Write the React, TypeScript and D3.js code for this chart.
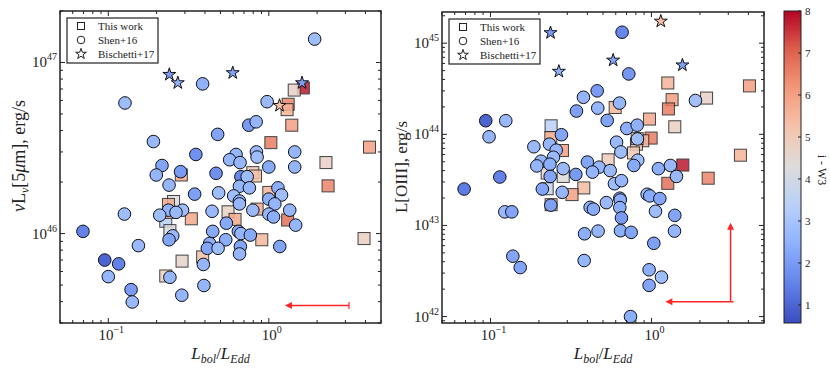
import React, { useEffect, useRef } from 'react';
import * as d3 from 'd3';

const FONT = '"Liberation Serif", "DejaVu Serif", serif';

const X_DOMAIN: [number, number] = [0.05, 5];
const Y5_DOMAIN: [number, number] = [3e45, 2e47];
const YO_DOMAIN: [number, number] = [8.5e41, 2.2e45];
const C_DOMAIN: [number, number] = [0.57, 8];
const C_TICKS = [1, 2, 3, 4, 5, 6, 7, 8];

const LEGEND = ['This work', 'Shen+16', 'Bischetti+17'];

// matplotlib coolwarm, sampled
const COOLWARM = ['#3b4cc0', '#6282ea', '#8db0fe', '#b8d0f9', '#dddcdc', '#f5c4ac', '#f49a7b', '#de604d', '#b40426'];

/* ---- left panel: nuL_nu at 5 micron ---- */
const shen5X = [1.93, 0.387, 0.127, 0.976, 0.75, 0.834, 0.48, 0.191, 0.351, 0.625, 0.57, 0.662, 0.837, 0.845, 1.45, 1.45, 1.0, 0.216, 0.199, 0.282, 0.469, 0.67, 0.733, 0.239, 0.656, 0.757, 0.345, 0.487, 0.604, 0.656, 0.656, 1.0, 1.14, 1.2, 1.09, 0.795, 1.0, 1.07, 1.35, 1.47, 0.443, 0.29, 0.237, 0.264, 0.209, 0.126, 0.544, 0.447, 0.646, 0.67, 0.767, 0.539, 0.252, 0.239, 0.0695, 0.154, 0.428, 0.414, 0.483, 0.665, 0.657, 1.17, 0.095, 0.116, 0.1, 0.391, 0.242, 0.1386, 0.394, 0.287, 0.141];
const shen5L = [1.37e47, 7.5e46, 5.8e46, 5.9e46, 4.3e46, 4.5e46, 3.8e46, 3.45e46, 2.9e46, 2.9e46, 2.7e46, 2.6e46, 3.0e46, 2.8e46, 3.0e46, 2.45e46, 2.45e46, 2.5e46, 2.2e46, 2.3e46, 2.25e46, 2.15e46, 2.15e46, 1.92e46, 1.89e46, 1.85e46, 1.7e46, 1.73e46, 1.66e46, 1.55e46, 1.49e46, 1.59e46, 1.85e46, 1.68e46, 1.49e46, 1.37e46, 1.3e46, 1.25e46, 1.37e46, 1.12e46, 1.35e46, 1.37e46, 1.37e46, 1.33e46, 1.28e46, 1.3e46, 1.15e46, 1.03e46, 1.03e46, 1.0e46, 9.8e45, 9.2e45, 9.7e45, 9.2e45, 1.03e46, 8.5e45, 8.75e45, 8.2e45, 8.2e45, 8.4e45, 7.6e45, 8.4e45, 7.0e45, 6.65e45, 5.6e45, 6.6e45, 5.55e45, 4.7e45, 4.97e45, 4.36e45, 3.98e45];
const shen5C = [2.8, 2.5, 2.8, 2.7, 2.0, 2.6, 2.2, 2.7, 1.8, 2.6, 2.6, 2.6, 2.7, 2.8, 2.6, 2.6, 2.3, 2.2, 2.6, 2.0, 1.8, 1.6, 2.8, 2.6, 2.6, 2.6, 2.1, 2.8, 2.8, 2.6, 2.6, 2.4, 2.4, 2.8, 2.6, 2.7, 2.6, 2.4, 2.6, 2.6, 2.7, 2.8, 2.5, 2.7, 2.8, 2.8, 2.3, 2.3, 2.3, 2.6, 2.3, 2.4, 2.7, 2.2, 1.5, 2.7, 2.4, 2.2, 2.8, 2.2, 2.6, 2.2, 1.0, 1.5, 2.6, 2.6, 2.6, 2.0, 2.6, 2.6, 2.7];

const this5X = [1.64, 1.44, 1.32, 1.3, 1.39, 1.03, 4.24, 2.27, 2.34, 0.795, 0.826, 0.285, 1.0, 0.846, 0.557, 0.616, 0.329, 1.31, 0.255, 0.237, 0.228, 0.242, 0.239, 0.904, 3.92, 0.288, 0.387, 0.228];
const this5L = [7.1e46, 6.9e46, 5.7e46, 5.3e46, 4.3e46, 3.4e46, 3.2e46, 2.6e46, 1.9e46, 2.27e46, 2.17e46, 2.2e46, 1.74e46, 1.39e46, 1.34e46, 1.21e46, 1.22e46, 1.2e46, 1.54e46, 1.48e46, 1.18e46, 1.04e46, 1.33e46, 9.2e45, 9.35e45, 6.9e45, 7.3e45, 5.65e45];
const this5C = [7.8, 4.7, 6.5, 5.6, 6.0, 6.6, 6.0, 4.7, 6.5, 5.0, 5.3, 5.8, 5.6, 5.8, 4.8, 5.8, 5.8, 6.8, 4.2, 5.8, 3.4, 4.2, 5.8, 5.5, 4.8, 4.6, 5.3, 4.8];

const bis5X = [0.24, 0.271, 0.596, 1.61, 1.166];
const bis5L = [8.5e46, 7.6e46, 8.7e46, 7.6e46, 5.6e46];
const bis5C = [2.0, 2.5, 2.2, 2.1, 5.3];

/* ---- right panel: L[OIII] ---- */
const shenOX = [0.657, 0.723, 0.46, 0.378, 0.633, 0.464, 0.342, 1.876, 0.0935, 0.1245, 0.098, 0.531, 0.703, 0.815, 0.818, 0.276, 0.186, 0.2325, 0.256, 0.246, 0.607, 0.646, 0.206, 0.194, 0.234, 0.235, 0.283, 0.4, 0.473, 0.43, 0.339, 0.554, 0.822, 0.777, 1.105, 1.312, 1.43, 0.0686, 0.1143, 0.21, 0.279, 0.589, 0.651, 0.1228, 0.1357, 0.237, 0.416, 0.436, 0.525, 0.636, 0.64, 0.636, 0.651, 0.94, 0.976, 1.127, 1.059, 1.396, 1.39, 0.384, 0.466, 0.642, 0.748, 1.034, 0.1377, 0.153, 0.382, 0.967, 1.154, 0.967, 0.741];
const shenOL = [1.32e45, 4.6e44, 3.0e44, 2.55e44, 2.2e44, 1.94e44, 1.8e44, 2.35e44, 1.41e44, 1.41e44, 9.4e43, 1.42e44, 1.16e44, 1.26e44, 8.9e43, 9.9e43, 7.3e43, 7.8e43, 6.7e43, 5.6e43, 8.2e43, 6.4e43, 5.07e43, 4.5e43, 4.7e43, 3.45e43, 4.2e43, 4.96e43, 4.36e43, 3.85e43, 3.63e43, 4.0e43, 5.2e43, 4.55e43, 4.2e43, 4.55e43, 3.45e43, 2.51e43, 3.4e43, 2.51e43, 2.31e43, 2.87e43, 3.1e43, 1.41e43, 1.41e43, 1.67e43, 1.58e43, 1.51e43, 1.78e43, 1.99e43, 1.9e43, 1.57e43, 1.21e43, 2.2e43, 2.11e43, 1.97e43, 1.43e43, 1.29e43, 8.67e42, 8.1e42, 8.67e42, 8.75e42, 8.4e42, 6.37e42, 4.6e42, 3.45e42, 4.12e42, 3.26e42, 2.71e42, 2.2e42, 1.0e42];
const shenOC = [1.6, 1.9, 2.0, 2.6, 2.6, 2.6, 2.1, 2.9, 1.0, 2.7, 2.6, 2.2, 2.4, 2.5, 2.8, 2.2, 2.7, 2.6, 2.6, 2.7, 2.7, 2.8, 2.6, 2.6, 2.4, 2.2, 2.7, 2.2, 2.6, 2.6, 2.0, 2.7, 2.8, 2.3, 2.4, 2.7, 2.7, 1.4, 1.5, 2.2, 2.6, 2.8, 2.6, 2.7, 2.2, 2.1, 2.4, 2.3, 2.7, 2.3, 2.4, 2.4, 2.0, 2.7, 2.3, 2.2, 2.8, 2.2, 2.6, 2.4, 2.6, 2.4, 2.2, 2.1, 2.2, 2.2, 2.6, 2.4, 2.8, 2.2, 2.4];

const thisOX = [1.566, 1.263, 1.343, 1.275, 1.396, 2.2, 4.06, 3.57, 2.25, 1.263, 0.972, 0.995, 0.883, 0.807, 0.815, 0.773, 0.595, 0.538, 0.238, 0.237, 0.28, 0.225, 0.283, 0.225, 0.38, 0.321, 0.238];
const thisOL = [4.6e43, 3.66e44, 2.4e44, 1.9e44, 1.21e44, 2.5e44, 3.4e44, 5.9e43, 3.3e43, 2.9e43, 1.47e44, 9.1e43, 8.5e43, 7.8e43, 8.97e43, 6.25e43, 1.97e44, 5.25e43, 1.24e44, 9.2e43, 6.64e43, 3.76e43, 3.45e43, 2.53e43, 2.58e43, 2.18e43, 1.69e43];
const thisOC = [7.8, 5.6, 6.0, 6.6, 4.8, 4.7, 6.0, 5.6, 6.5, 6.8, 5.8, 6.6, 5.5, 5.0, 5.2, 5.0, 5.5, 4.9, 3.4, 5.8, 6.0, 4.6, 4.3, 3.6, 5.4, 6.0, 5.8];

const bisOX = [0.236, 0.266, 0.578, 1.557, 1.143];
const bisOL = [1.3e45, 4.9e44, 6.5e44, 5.75e44, 1.74e45];
const bisOC = [2.0, 2.5, 2.2, 2.1, 5.3];

// upper-limit arrows
const LIM5 = { x: 3.16, xTo: 1.26, y: 3.8e45 };
const LIMO = { x: 3.1, xTo: 1.22, y: 1.45e42, yTo: 1.07e43 };

const coolwarm = d3.piecewise(d3.interpolateRgb, COOLWARM);
const color = d3.scaleSequential(coolwarm).domain(C_DOMAIN);

function logTicks(domain: [number, number]) {
  const major: { v: number; k: number }[] = [];
  const minor: number[] = [];
  const lo = Math.floor(Math.log10(domain[0]));
  const hi = Math.ceil(Math.log10(domain[1]));
  for (let k = lo; k <= hi; k++) {
    for (let m = 1; m < 10; m++) {
      const v = m * Math.pow(10, k);
      if (v < domain[0] * 0.999 || v > domain[1] * 1.001) continue;
      if (m === 1) major.push({ v, k });
      else minor.push(v);
    }
  }
  return { major, minor };
}

function powLabel(sel: any, k: number) {
  sel.append('tspan').text('10');
  sel.append('tspan').attr('dy', -7).attr('font-size', 10).text(String(k).replace('-', '\u2212'));
}

function drawPanel(svg: any, cfg: any) {
  const { left, right, top, bottom, yDomain, sq, ci, st, id } = cfg;
  const x = d3.scaleLog().domain(X_DOMAIN).range([left, right]);
  const y = d3.scaleLog().domain(yDomain).range([bottom, top]);
  const g = svg.append('g');

  g.append('clipPath').attr('id', id)
    .append('rect').attr('x', left).attr('y', top).attr('width', right - left).attr('height', bottom - top);

  const content = g.append('g').attr('clip-path', `url(#${id})`);

  /* squares */
  const s = 12;
  content.selectAll('.sq').data(d3.range(sq.x.length)).join('rect')
    .attr('x', (i: number) => x(sq.x[i]) - s / 2)
    .attr('y', (i: number) => y(sq.y[i]) - s / 2)
    .attr('width', s).attr('height', s)
    .attr('fill', (i: number) => color(sq.c[i]))
    .attr('stroke', '#222').attr('stroke-width', 1)
    .attr('opacity', 0.85);

  /* circles */
  content.selectAll('.ci').data(d3.range(ci.x.length)).join('circle')
    .attr('cx', (i: number) => x(ci.x[i]))
    .attr('cy', (i: number) => y(ci.y[i]))
    .attr('r', 6.3)
    .attr('fill', (i: number) => color(ci.c[i]))
    .attr('stroke', '#111').attr('stroke-width', 1);

  /* stars */
  const star = d3.symbol().type(d3.symbolStar).size(52);
  content.selectAll('.st').data(d3.range(st.x.length)).join('path')
    .attr('d', star)
    .attr('transform', (i: number) => `translate(${x(st.x[i])},${y(st.y[i])})`)
    .attr('fill', (i: number) => color(st.c[i]))
    .attr('stroke', '#111').attr('stroke-width', 1);

  /* red limit arrows */
  const red = content.append('g').attr('stroke', '#f00').attr('fill', '#f00').attr('opacity', 0.85);
  const lim = cfg.lim;
  const ax = x(lim.x), ay = y(lim.y), axTo = x(lim.xTo);
  red.append('line').attr('x1', ax + (cfg.cap ? 0 : 3)).attr('y1', ay).attr('x2', axTo + 5).attr('y2', ay).attr('stroke-width', 1.5);
  red.append('path').attr('d', `M${axTo},${ay}L${axTo + 7},${ay - 3.5}L${axTo + 7},${ay + 3.5}Z`).attr('stroke', 'none');
  if (cfg.cap) red.append('line').attr('x1', ax).attr('x2', ax).attr('y1', ay - 3.5).attr('y2', ay + 3.5).attr('stroke-width', 1.2);
  if (lim.yTo) {
    const ayTo = y(lim.yTo);
    red.append('line').attr('x1', ax).attr('x2', ax).attr('y1', ay).attr('y2', ayTo + 5).attr('stroke-width', 1.5);
    red.append('path').attr('d', `M${ax},${ayTo}L${ax - 3.5},${ayTo + 7}L${ax + 3.5},${ayTo + 7}Z`).attr('stroke', 'none');
  }

  /* ticks on all four sides, pointing in */
  const tk = g.append('g').attr('stroke', '#222').attr('stroke-width', 1);
  const xt = logTicks(X_DOMAIN);
  const yt = logTicks(yDomain);
  const xTick = (v: number, len: number) => {
    tk.append('line').attr('x1', x(v)).attr('x2', x(v)).attr('y1', bottom).attr('y2', bottom - len);
    tk.append('line').attr('x1', x(v)).attr('x2', x(v)).attr('y1', top).attr('y2', top + len);
  };
  const yTick = (v: number, len: number) => {
    tk.append('line').attr('y1', y(v)).attr('y2', y(v)).attr('x1', left).attr('x2', left + len);
    tk.append('line').attr('y1', y(v)).attr('y2', y(v)).attr('x1', right).attr('x2', right - len);
  };
  xt.major.forEach(d => xTick(d.v, 5));
  xt.minor.forEach(v => xTick(v, 3));
  yt.major.forEach(d => yTick(d.v, 5));
  yt.minor.forEach(v => yTick(v, 3));

  const lab = g.append('g').attr('font-family', FONT).attr('font-size', 15).attr('fill', '#222');
  xt.major.forEach(d => {
    const t = lab.append('text').attr('x', x(d.v) + 3).attr('y', bottom + 17).attr('text-anchor', 'middle');
    powLabel(t, d.k);
  });
  yt.major.forEach(d => {
    const t = lab.append('text').attr('x', left - 3).attr('y', y(d.v) + 5).attr('text-anchor', 'end');
    powLabel(t, d.k);
  });

  /* frame */
  g.append('rect').attr('x', left).attr('y', top).attr('width', right - left).attr('height', bottom - top)
    .attr('fill', 'none').attr('stroke', '#222').attr('stroke-width', 1.5);

  /* x label */
  const xl = g.append('text').attr('x', (left + right) / 2).attr('y', 359).attr('text-anchor', 'middle')
    .attr('font-family', FONT).attr('font-size', 17).attr('fill', '#222');
  xl.append('tspan').attr('font-style', 'italic').text('L');
  xl.append('tspan').attr('font-style', 'italic').attr('font-size', 12).attr('dy', 4).text('bol');
  xl.append('tspan').attr('dy', -4).text('/');
  xl.append('tspan').attr('font-style', 'italic').text('L');
  xl.append('tspan').attr('font-style', 'italic').attr('font-size', 12).attr('dy', 4).text('Edd');

  /* y label */
  cfg.yLabel(g.append('text')
    .attr('transform', `translate(${cfg.yLabelX},${cfg.yLabelY}) rotate(-90)`)
    .attr('text-anchor', 'middle').attr('font-family', FONT).attr('font-size', cfg.yLabelSize).attr('fill', '#222'));

  /* legend */
  const lg = g.append('g').attr('font-family', FONT).attr('font-size', 11).attr('fill', '#222');
  lg.append('rect').attr('x', left + 7).attr('y', top + 7).attr('width', 91).attr('height', 45)
    .attr('fill', '#fff').attr('stroke', '#222').attr('stroke-width', 1.2);
  const mx = left + 21;
  const rows = LEGEND.map((_, i) => top + 15 + i * 14);
  lg.append('rect').attr('x', mx - 3.5).attr('y', rows[0] - 3.5).attr('width', 7).attr('height', 7)
    .attr('fill', '#fff').attr('stroke', '#222');
  lg.append('circle').attr('cx', mx).attr('cy', rows[1]).attr('r', 3.8).attr('fill', '#fff').attr('stroke', '#222');
  lg.append('path').attr('d', d3.symbol().type(d3.symbolStar).size(36)()).attr('transform', `translate(${mx},${rows[2]})`)
    .attr('fill', '#fff').attr('stroke', '#222');
  LEGEND.forEach((t, i) => {
    lg.append('text').attr('x', left + 38).attr('y', rows[i] + 4).text(t);
  });
}

function drawColorbar(svg: any) {
  const x0 = 784, x1 = 801, top = 11, bottom = 323;
  const cy = d3.scaleLinear().domain(C_DOMAIN).range([bottom, top]);
  const grad = svg.append('defs').append('linearGradient').attr('id', 'cbar')
    .attr('x1', 0).attr('y1', 1).attr('x2', 0).attr('y2', 0);
  d3.range(0, 1.0001, 0.02).forEach(t => {
    grad.append('stop').attr('offset', t).attr('stop-color', coolwarm(t));
  });
  svg.append('rect').attr('x', x0).attr('y', top).attr('width', x1 - x0).attr('height', bottom - top)
    .attr('fill', 'url(#cbar)').attr('stroke', '#222').attr('stroke-width', 1);
  const g = svg.append('g').attr('font-family', FONT).attr('font-size', 11).attr('fill', '#222');
  C_TICKS.forEach(v => {
    g.append('line').attr('x1', x1).attr('x2', x1 - 3).attr('y1', cy(v)).attr('y2', cy(v)).attr('stroke', '#222');
    g.append('text').attr('x', x1 + 4).attr('y', cy(v)).attr('dy', '0.35em').text(v);
  });
  svg.append('text').attr('transform', `translate(818,170) rotate(90)`).attr('text-anchor', 'middle')
    .attr('font-family', FONT).attr('font-size', 12).attr('fill', '#222').text('i - W3');
}

export default function App() {
  const svgRef = useRef<SVGSVGElement>(null);

  useEffect(() => {
    const svg = d3.select(svgRef.current);
    svg.selectAll('*').remove();

    drawPanel(svg, {
      id: 'clip5', left: 60, right: 381, top: 11, bottom: 323, yDomain: Y5_DOMAIN,
      sq: { x: this5X, y: this5L, c: this5C },
      ci: { x: shen5X, y: shen5L, c: shen5C },
      st: { x: bis5X, y: bis5L, c: bis5C },
      lim: LIM5, cap: true, yLabelX: 25, yLabelY: 156, yLabelSize: 18,
      yLabel: (t: any) => {
        t.append('tspan').attr('font-style', 'italic').text('\u03bd');
        t.append('tspan').text('L');
        t.append('tspan').attr('font-style', 'italic').attr('font-size', 12).attr('dy', 4).text('\u03bd');
        t.append('tspan').attr('dy', -4).text('[5');
        t.append('tspan').attr('font-style', 'italic').text('\u03bc');
        t.append('tspan').text('m], erg/s');
      }
    });

    drawPanel(svg, {
      id: 'clipO', left: 442, right: 764, top: 12, bottom: 323, yDomain: YO_DOMAIN,
      sq: { x: thisOX, y: thisOL, c: thisOC },
      ci: { x: shenOX, y: shenOL, c: shenOC },
      st: { x: bisOX, y: bisOL, c: bisOC },
      lim: LIMO, cap: false, yLabelX: 407, yLabelY: 167, yLabelSize: 17,
      yLabel: (t: any) => { t.text('L[OIII], erg/s'); }
    });

    drawColorbar(svg);
  }, []);

  return (
    <svg ref={svgRef} width={830} height={371}
      style={{ position: 'absolute', left: 0, top: 0, background: '#fff' }} />
  );
}
